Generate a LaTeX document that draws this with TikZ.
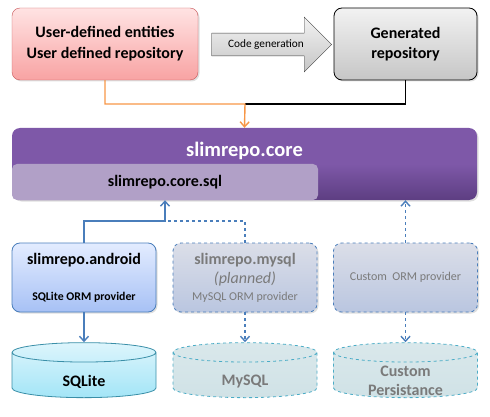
\documentclass[tikz,border=0pt]{standalone}
\usepackage{fontspec}
\setmainfont{Carlito}
\usetikzlibrary{shapes.geometric, shapes.arrows, arrows.meta, positioning, shadows}
\usepackage{xcolor}

\definecolor{usertop}{HTML}{FFE3E3}
\definecolor{userbot}{HTML}{F8A3A3}
\definecolor{userline}{HTML}{C9575A}
\definecolor{gentop}{HTML}{F2F2F2}
\definecolor{genbot}{HTML}{C6C6C6}
\definecolor{coretop}{HTML}{7E58A8}
\definecolor{corebot}{HTML}{5D3E82}
\definecolor{sqlfill}{HTML}{B1A0C7}
\definecolor{provtop}{HTML}{E3ECFF}
\definecolor{provbot}{HTML}{A7C1F5}
\definecolor{plantop}{HTML}{DBDEE8}
\definecolor{planbot}{HTML}{BAC6E0}
\definecolor{linkblue}{HTML}{4A7EBB}
\definecolor{dbtop}{HTML}{DDF5FC}
\definecolor{dbbot}{HTML}{A3E5F7}
\definecolor{dbline}{HTML}{3A8FA8}
\definecolor{pdbfill}{HTML}{D0E2E6}
\definecolor{pdbline}{HTML}{4BACC6}
\definecolor{flow}{HTML}{F79646}
\definecolor{plantext}{HTML}{7A7A7A}

\begin{document}
\begin{tikzpicture}[x=1pt, y=-1pt,
    box/.style={rectangle, rounded corners=8pt, align=center, inner sep=2pt,
                drop shadow={opacity=0.25, shadow xshift=1.5pt, shadow yshift=-1.5pt}},
    prov/.style={box, draw=linkblue, line width=0.8pt, minimum width=144pt, minimum height=69pt,
                 top color=provtop, bottom color=provbot, font=\fontsize{16}{20}\selectfont},
    plan/.style={prov, dashed, top color=plantop, bottom color=planbot, text=plantext},
    db/.style={cylinder, shape border rotate=90, aspect=0.19, draw=dbline, line width=0.8pt,
               minimum width=144pt, minimum height=55pt, inner sep=1pt, text width=100pt,
               top color=dbtop, bottom color=dbbot},
    pdb/.style={db, draw=pdbline, dashed, top color=pdbfill!80!white, bottom color=pdbfill},
    dbtext/.style={align=center, yshift=-6pt, font=\fontsize{16}{18.5}\selectfont\bfseries},
    link/.style={draw=linkblue, line width=1.4pt, -{Straight Barb[length=5pt, width=9pt]}},
    plink/.style={link, dashed}
]
    \useasboundingbox (0,0) rectangle (490,417);

    % top row
    \node[box, draw=userline, top color=usertop, bottom color=userbot, minimum width=186pt,
          minimum height=72pt, font=\fontsize{16}{21}\selectfont\bfseries]
          (user) at (105,44) {User-defined entities\\User defined repository};
    \node[box, draw=black, line width=0.8pt, top color=gentop, bottom color=genbot, minimum width=143pt,
          minimum height=72pt, font=\fontsize{16}{20}\selectfont\bfseries]
          (gen) at (405.5,44) {Generated\\repository};
    \node[single arrow, draw=black!75, top color=gentop, bottom color=genbot, single arrow tip angle=90,
          single arrow head extend=10pt, minimum height=120pt, minimum width=55pt, inner sep=2pt,
          font=\fontsize{11.3}{13}\selectfont]
          (codegen) at (266,44.5) {Code generation};

    % core
    \node[box, top color=coretop, bottom color=corebot, middle color=coretop, minimum width=465pt,
          minimum height=72pt,
          label={[text=white, font=\fontsize{20.5}{24}\selectfont\bfseries, below=11pt]north:slimrepo.core}]
          (core) at (244.5,164) {};
    \node[rectangle, rounded corners=5pt, fill=sqlfill, minimum width=306pt, minimum height=36pt,
          font=\fontsize{16}{19}\selectfont\bfseries]
          (sql) at (165,182) {slimrepo.core.sql};

    % providers
    \node[prov] (android) at (84,277.5)
          {\textbf{slimrepo.android}\\[16pt]
           {\fontsize{11.8}{14}\selectfont\bfseries SQLite ORM provider}};
    \node[plan] (mysql) at (245,277.5)
          {\textbf{slimrepo.mysql}\\[-1pt]
           \textit{(planned)}\\[-3pt]
           {\fontsize{12}{14}\selectfont MySQL ORM provider}};
    \node[plan, font=\fontsize{12}{14}\selectfont] (custom) at (405.5,277.5) {Custom\ \ ORM provider};

    % storage
    \node[db, label={[dbtext]center:SQLite}] (sqlite) at (84,376) {};
    \node[pdb, label={[dbtext, text=plantext]center:MySQL}] (mysqldb) at (245,376) {};
    \node[pdb, label={[dbtext, text=plantext, yshift=1pt]center:Custom\\Persistance}] (customdb) at (405.5,376) {};

    % connectors
    \coordinate (merge) at (245,104);
    \draw[line width=1.4pt] (gen.south) |- (merge);
    \draw[flow, line width=1.4pt, -{Straight Barb[length=5pt, width=9pt]}]
          (user.south) |- (merge) -- (core.north);
    \coordinate (feed) at (165,221);
    \draw[plink, -] (mysql.north) |- (feed);
    \draw[link] (android.north) |- (feed) -- (sql.south);
    \draw[plink] (custom.north) -- (custom.north |- core.south);
    \draw[link] (android.south) -- (sqlite.north);
    \draw[plink] (mysql.south) -- (mysqldb.north);
    \draw[plink] (custom.south) -- (customdb.north);
\end{tikzpicture}
\end{document}
